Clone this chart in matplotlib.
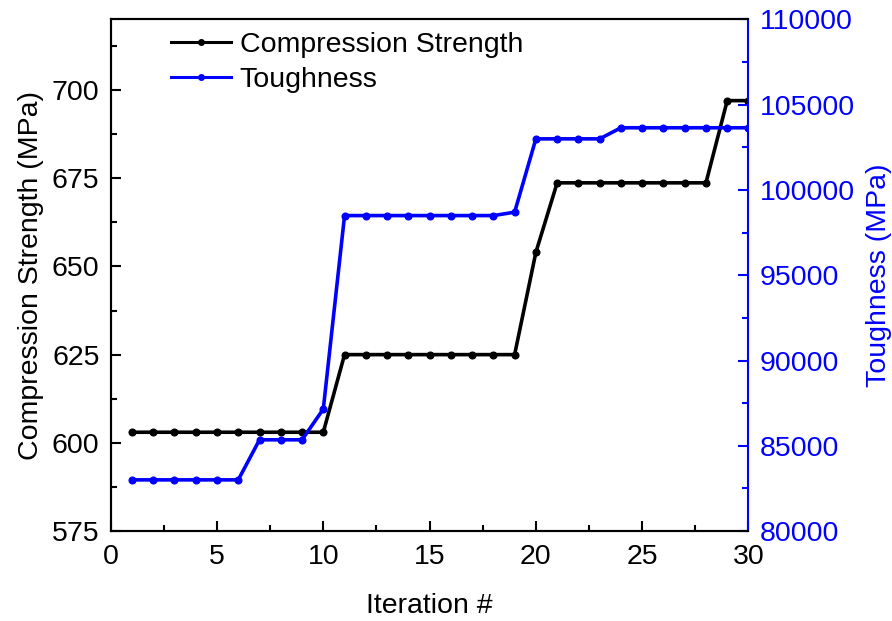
import matplotlib
matplotlib.use("Agg")
import matplotlib.pyplot as plt
from matplotlib.ticker import MultipleLocator
from matplotlib.lines import Line2D

plt.rcParams['font.family'] = ['Liberation Sans', 'DejaVu Sans']

iterations = list(range(1, 31))
compression = [603]*10 + [625]*9 + [654] + [673.7]*8 + [697]*2
toughness = [83000]*6 + [85350]*3 + [87150] + [98500]*8 + [98700] + [103000]*4 + [103650]*7

fig = plt.figure(figsize=(8.92, 6.21), dpi=100)
ax = fig.add_axes([0.1241, 0.1449, 0.8391 - 0.1241, 0.9686 - 0.1449])
ax2 = ax.twinx()

ax.plot(iterations, compression, color='black', lw=2.6, marker='o', ms=4.8, zorder=3)
ax2.plot(iterations, toughness, color='blue', lw=2.6, marker='o', ms=4.8, zorder=3)

ax.set_xlim(0, 30)
ax.set_ylim(575, 720)
ax2.set_ylim(80000, 110000)

ax.xaxis.set_major_locator(MultipleLocator(5))
ax.xaxis.set_minor_locator(MultipleLocator(2.5))
ax.yaxis.set_major_locator(MultipleLocator(25))
ax.yaxis.set_minor_locator(MultipleLocator(12.5))
ax2.yaxis.set_major_locator(MultipleLocator(5000))
ax2.yaxis.set_minor_locator(MultipleLocator(2500))

fs = 20.5
ax.tick_params(axis='both', which='major', direction='in', length=7, width=1.5, labelsize=fs, pad=8)
ax.tick_params(axis='both', which='minor', direction='in', length=4, width=1.5)
ax.tick_params(axis='x', which='major', pad=9)
ax2.tick_params(axis='y', which='major', direction='in', length=7, width=1.5, labelsize=fs,
                pad=8, colors='blue')
ax2.tick_params(axis='y', which='minor', direction='in', length=4, width=1.5, colors='blue')

for s in ['left', 'bottom', 'top']:
    ax.spines[s].set_linewidth(1.5)
    ax2.spines[s].set_linewidth(1.5)
ax2.spines['right'].set_color('blue')
ax2.spines['right'].set_linewidth(1.5)
ax.spines['right'].set_visible(False)

ax.set_xlabel('Iteration #', fontsize=fs, labelpad=17)
ax.set_ylabel('Compression Strength (MPa)', fontsize=fs, labelpad=6)
ax2.set_ylabel('Toughness (MPa)', fontsize=fs, color='blue', labelpad=8)

h1 = Line2D([], [], color='black', lw=2.2, marker='o', ms=4)
h2 = Line2D([], [], color='blue', lw=2.2, marker='o', ms=4)
ax.legend(handles=[h1, h2], labels=['Compression Strength', 'Toughness'],
          loc='upper left', frameon=False, fontsize=fs,
          handlelength=2.1, handletextpad=0.3, labelspacing=0.32,
          bbox_to_anchor=(0.055, 1.025))

fig.savefig('out.png', dpi=100)
